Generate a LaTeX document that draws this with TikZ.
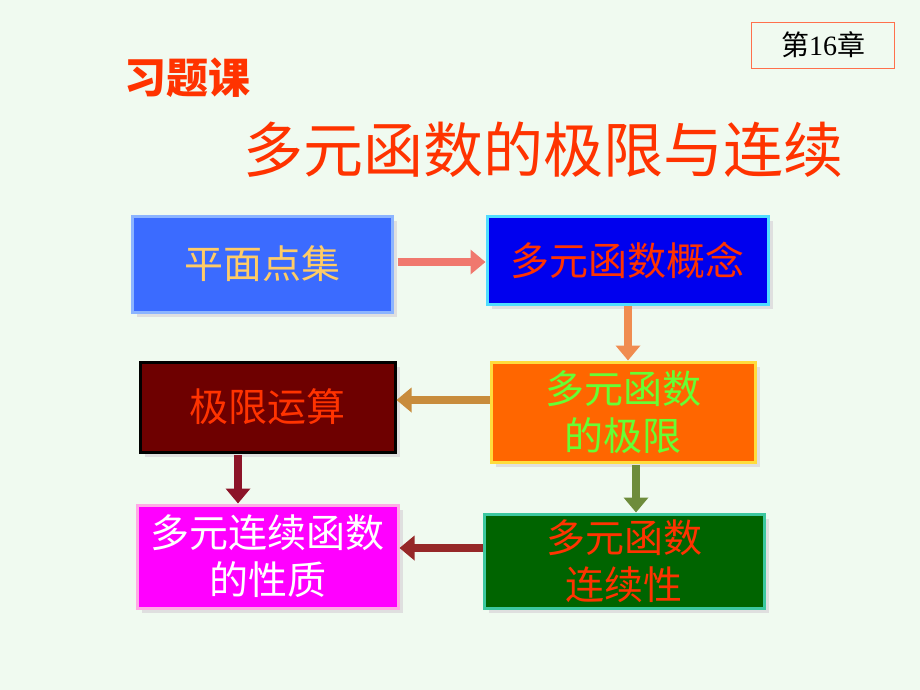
\documentclass[tikz,border=0pt]{standalone}
\usepackage{fontspec}
\newfontfamily\cjk{Noto Sans CJK SC}
\setmainfont{Liberation Serif}
\usetikzlibrary{arrows.meta}
\definecolor{bg}{HTML}{F0FAF0}
\definecolor{tred}{HTML}{FF3300}
\definecolor{fa}{RGB}{59,107,255}
\definecolor{ta}{RGB}{255,204,102}
\definecolor{fb}{RGB}{0,0,238}
\definecolor{fc}{RGB}{110,0,0}
\definecolor{fd}{RGB}{255,102,0}
\definecolor{td}{RGB}{102,255,51}
\definecolor{fe}{RGB}{255,0,255}
\definecolor{ff}{RGB}{0,100,0}
\definecolor{a1}{RGB}{240,120,110}
\definecolor{a2}{RGB}{240,140,80}
\definecolor{a3}{RGB}{200,140,60}
\definecolor{a4}{RGB}{140,20,40}
\definecolor{a5}{RGB}{110,140,60}
\definecolor{a6}{RGB}{150,40,40}
\definecolor{ba}{RGB}{140,180,255}
\definecolor{bb}{RGB}{80,220,255}
\definecolor{bd}{RGB}{255,220,60}
\definecolor{be}{RGB}{255,170,230}
\definecolor{bf}{RGB}{60,200,160}
\tikzset{
 box/.style={draw=#1,line width=3pt,inner sep=0pt,align=center,font=\cjk\fontsize{39}{47}\selectfont},
 barrow/.style={line width=8pt,draw=#1,-{Triangle[length=15pt,width=24pt]}},
}
\begin{document}
\begin{tikzpicture}[x=1pt,y=-1pt]
\fill[bg] (0,0) rectangle (920,690);
\useasboundingbox (0,0) rectangle (920,690);
\node[draw=tred!70,line width=0.8pt,minimum width=143pt,minimum height=46pt,font=\fontsize{28}{32}\selectfont] (ch) at (823,45) {\cjk 第\rmfamily 16\cjk 章};
\node[text=tred,font=\cjk\bfseries\fontsize{42}{48}\selectfont] (t1) at (187,78) {习题课};
\node[text=tred,font=\cjk\fontsize{60}{68}\selectfont] (t2) at (543,150) {多元函数的极限与连续};
\fill[gray!25] (137,221) rectangle (397,317);
\fill[gray!25] (492,221) rectangle (773,309);
\fill[gray!25] (145,367) rectangle (400,457);
\fill[gray!25] (496,367) rectangle (760,467);
\fill[gray!25] (142,510) rectangle (403,613);
\fill[gray!25] (489,519) rectangle (769,613);
\node[box=ba,fill=fa,text=ta,minimum width=260pt,minimum height=96pt] (a) at (262,264) {平面点集};
\node[box=bb,fill=fb,text=tred,minimum width=281pt,minimum height=88pt] (b) at (627.5,260) {多元函数概念};
\node[box=black,fill=fc,text=tred,minimum width=255pt,minimum height=90pt] (c) at (267.5,407) {极限运算};
\node[box=bd,fill=fd,text=td,minimum width=264pt,minimum height=100pt] (d) at (623,412) {多元函数\\的极限};
\node[box=be,fill=fe,text=white,minimum width=261pt,minimum height=103pt] (e) at (267.5,556.5) {多元连续函数\\的性质};
\node[box=bf,fill=ff,text=tred,minimum width=280pt,minimum height=94pt] (f) at (624,561) {多元函数\\连续性};
\draw[barrow=a1] (a.east |- 0,262) ++(4,0) -- (b.west |- 0,262);
\draw[barrow=a2] (628,306) -- (d.north -| 628,0);
\draw[barrow=a3] (d.west |- 0,400) -- (c.east |- 0,400);
\draw[barrow=a4] (238,455) -- (e.north -| 238,0);
\draw[barrow=a5] (636,465) -- (f.north -| 636,0);
\draw[barrow=a6] (f.west |- 0,548) -- (e.east |- 0,548);
\end{tikzpicture}
\end{document}
